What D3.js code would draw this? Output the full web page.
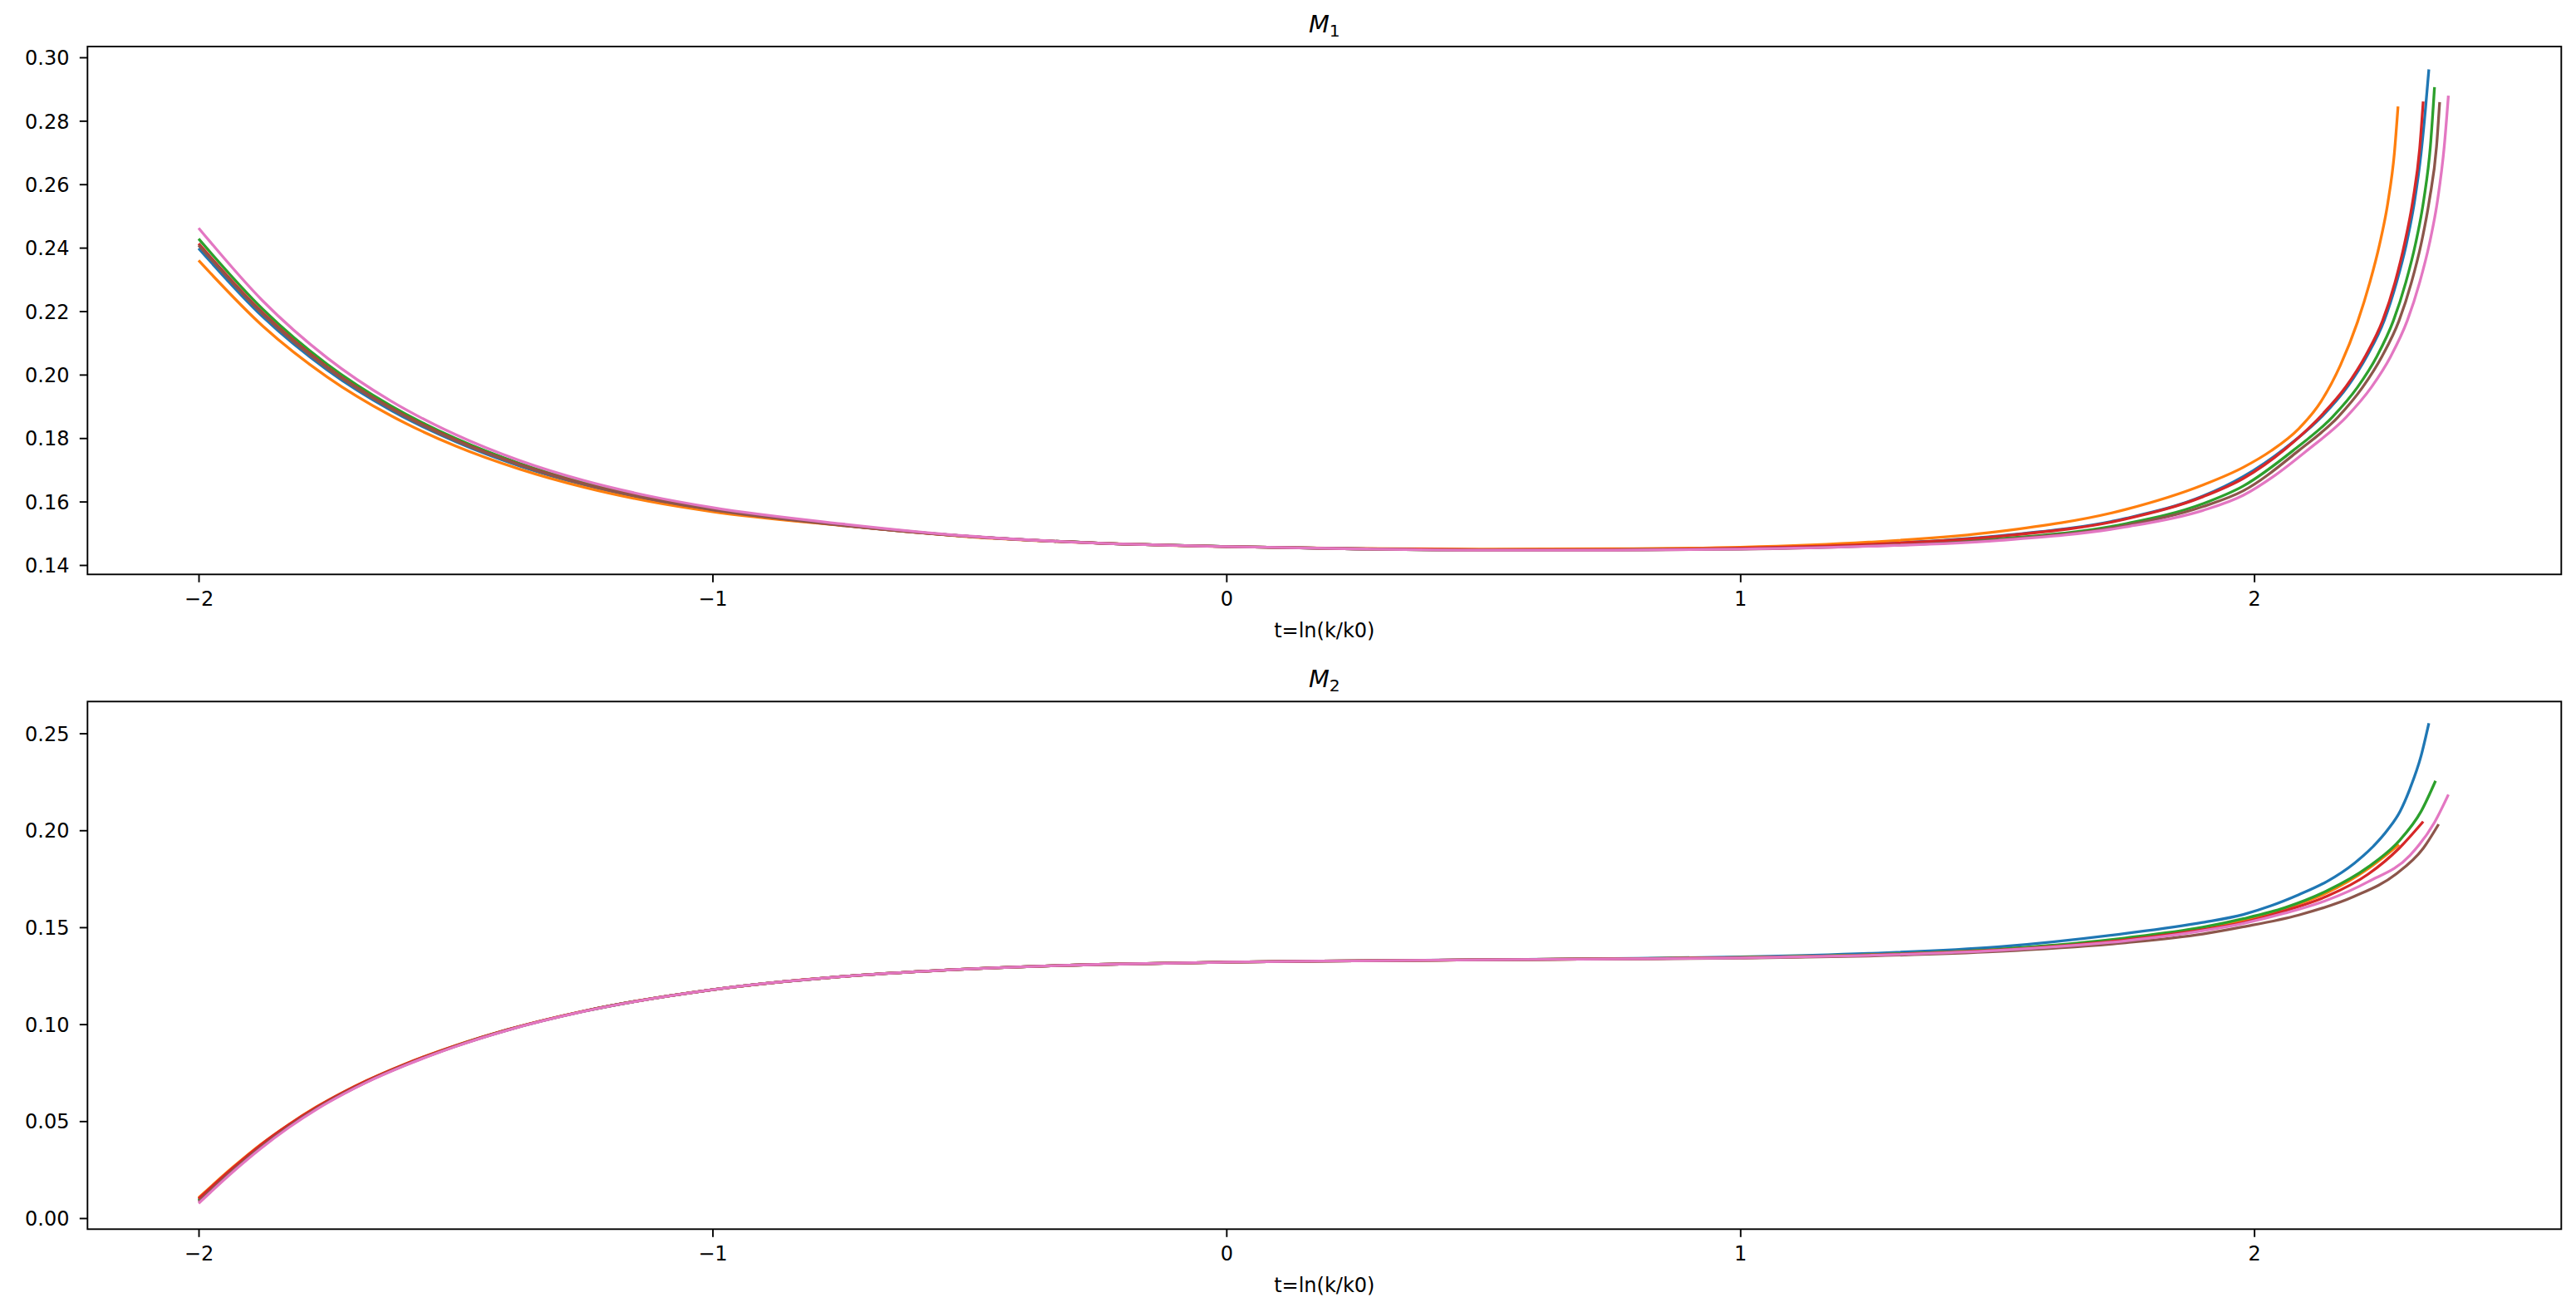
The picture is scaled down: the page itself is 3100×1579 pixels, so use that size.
<!DOCTYPE html>
<html>
<head>
<meta charset="utf-8">
<script src="https://cdn.jsdelivr.net/npm/d3@7"></script>
<style>
  html, body { margin: 0; padding: 0; background: #fff; overflow: hidden; }
  svg { display: block; font-family: "DejaVu Sans", sans-serif; }
</style>
</head>
<body>
<script>
// ---------------- DATA ----------------
const seriesNames = ["C0", "C1", "C2", "C3", "C5", "C6"];
const seriesColors = ["#1f77b4", "#ff7f0e", "#2ca02c", "#d62728", "#8c564b", "#e377c2"];

const xTicks = [-2, -1, 0, 1, 2];
const m1Ticks = [0.14, 0.16, 0.18, 0.20, 0.22, 0.24, 0.26, 0.28, 0.30];
const m2Ticks = [0.00, 0.05, 0.10, 0.15, 0.20, 0.25];

// M1 body grid and values
const m1Grid = [-2, -1.875, -1.75, -1.625, -1.5, -1.375, -1.25, -1.125, -1, -0.75, -0.5, -0.25, 0, 0.25, 0.5, 0.75, 1, 1.25, 1.5, 1.75, 1.9];
const m1BlueBody   = [0.2398,0.2182,0.2015,0.1887,0.1789,0.1712,0.1653,0.1608,0.1573,0.1525,0.1490,0.1469,0.1458,0.1451,0.1448,0.1449,0.1453,0.1465,0.1491,0.1547,0.1617];
const m1OrangeBody = [0.2360,0.2153,0.1993,0.1870,0.1775,0.1702,0.1645,0.1601,0.1568,0.1525,0.1489,0.1469,0.1458,0.1452,0.1450,0.1451,0.1456,0.1472,0.1505,0.1575,0.1652];
const m1GreenBody  = [0.2428,0.2206,0.2033,0.1901,0.1799,0.1720,0.1659,0.1612,0.1577,0.1527,0.1490,0.1469,0.1458,0.1451,0.1447,0.1448,0.1451,0.1461,0.1482,0.1530,0.1593];
const m1RedBody    = [0.2413,0.2194,0.2024,0.1894,0.1794,0.1716,0.1656,0.1610,0.1575,0.1526,0.1490,0.1469,0.1458,0.1451,0.1448,0.1449,0.1453,0.1465,0.1490,0.1545,0.1615];
const m1BrownBody  = [0.2408,0.2190,0.2021,0.1892,0.1792,0.1715,0.1655,0.1609,0.1574,0.1526,0.1490,0.1469,0.1458,0.1451,0.1447,0.1447,0.1450,0.1460,0.1479,0.1525,0.1584];
const m1PinkBody   = [0.2462,0.2232,0.2053,0.1916,0.1811,0.1729,0.1666,0.1618,0.1581,0.1530,0.1491,0.1469,0.1458,0.1451,0.1447,0.1447,0.1450,0.1459,0.1477,0.1520,0.1572];

// M1 tails [t, value]
const m1BlueTail   = [[1.979,0.1679],[2.060,0.1768],[2.133,0.1870],[2.183,0.1965],[2.220,0.2060],[2.253,0.2170],[2.277,0.2290],[2.296,0.2410],[2.312,0.2545],[2.325,0.2700],[2.333,0.2830],[2.340,0.2962]];
const m1OrangeTail = [[1.979,0.1708],[2.033,0.1760],[2.087,0.1830],[2.130,0.1915],[2.168,0.2030],[2.201,0.2165],[2.225,0.2290],[2.244,0.2410],[2.260,0.2540],[2.273,0.2700],[2.280,0.2845]];
const m1GreenTail  = [[1.979,0.1649],[2.076,0.1761],[2.152,0.1866],[2.201,0.1960],[2.239,0.2058],[2.271,0.2170],[2.295,0.2290],[2.314,0.2412],[2.330,0.2550],[2.343,0.2720],[2.351,0.2906]];
const m1RedTail    = [[1.979,0.1673],[2.060,0.1765],[2.130,0.1870],[2.179,0.1963],[2.217,0.2060],[2.250,0.2170],[2.274,0.2290],[2.293,0.2415],[2.309,0.2550],[2.322,0.2710],[2.329,0.2861]];
const m1BrownTail  = [[1.979,0.1634],[2.087,0.1761],[2.163,0.1866],[2.211,0.1960],[2.249,0.2058],[2.282,0.2170],[2.306,0.2290],[2.325,0.2412],[2.341,0.2550],[2.355,0.2720],[2.361,0.2859]];
const m1PinkTail   = [[1.979,0.1620],[2.040,0.1682],[2.103,0.1761],[2.179,0.1866],[2.228,0.1960],[2.266,0.2058],[2.298,0.2170],[2.322,0.2290],[2.341,0.2412],[2.357,0.2550],[2.370,0.2720],[2.378,0.2879]];

// M2 body grid and values
const m2Grid = [-2, -1.933, -1.879, -1.825, -1.771, -1.717, -1.674, -1.6, -1.5, -1.4, -1.25, -1, -0.75, -0.5, -0.25, 0, 0.25, 0.5, 0.75, 1, 1.25, 1.5, 1.75, 1.9];
const m2BlueBody   = [0.0090,0.0250,0.0369,0.0474,0.0566,0.0646,0.0703,0.0788,0.0887,0.0969,0.1067,0.1178,0.1245,0.1285,0.1308,0.1320,0.1327,0.1332,0.1338,0.1347,0.1365,0.1398,0.1468,0.1525];
const m2OrangeBody = [0.0105,0.0263,0.0380,0.0482,0.0573,0.0652,0.0708,0.0793,0.0890,0.0971,0.1068,0.1178,0.1245,0.1285,0.1308,0.1320,0.1327,0.1332,0.1337,0.1344,0.1358,0.1385,0.1440,0.1495];
const m2GreenBody  = [0.0093,0.0253,0.0371,0.0476,0.0568,0.0648,0.0704,0.0789,0.0888,0.0970,0.1067,0.1178,0.1245,0.1285,0.1308,0.1320,0.1327,0.1332,0.1337,0.1344,0.1358,0.1386,0.1445,0.1500];
const m2RedBody    = [0.0100,0.0259,0.0377,0.0480,0.0571,0.0650,0.0707,0.0792,0.0889,0.0971,0.1068,0.1178,0.1245,0.1285,0.1308,0.1320,0.1327,0.1332,0.1337,0.1343,0.1356,0.1382,0.1435,0.1487];
const m2BrownBody  = [0.0085,0.0246,0.0365,0.0471,0.0564,0.0644,0.0701,0.0787,0.0886,0.0969,0.1067,0.1178,0.1245,0.1285,0.1308,0.1320,0.1327,0.1332,0.1336,0.1341,0.1352,0.1375,0.1420,0.1465];
const m2PinkBody   = [0.0076,0.0239,0.0359,0.0466,0.0560,0.0641,0.0699,0.0785,0.0885,0.0968,0.1066,0.1178,0.1245,0.1285,0.1308,0.1320,0.1327,0.1332,0.1336,0.1342,0.1355,0.1380,0.1430,0.1482];

// M2 tails [t, value]
const m2BlueTail   = [[1.979,0.1566],[2.033,0.1611],[2.087,0.1668],[2.141,0.1735],[2.195,0.1830],[2.228,0.1907],[2.260,0.2003],[2.284,0.2098],[2.303,0.2213],[2.325,0.2385],[2.340,0.2552]];
const m2OrangeTail = [[1.979,0.1535],[2.060,0.1597],[2.141,0.1677],[2.222,0.1802],[2.282,0.1926]];
const m2GreenTail  = [[1.979,0.1544],[2.060,0.1601],[2.141,0.1687],[2.222,0.1811],[2.282,0.1945],[2.325,0.2098],[2.353,0.2255]];
const m2RedTail    = [[1.979,0.1525],[2.060,0.1585],[2.141,0.1659],[2.222,0.1774],[2.282,0.1907],[2.329,0.2045]];
const m2BrownTail  = [[1.979,0.1502],[2.087,0.1563],[2.195,0.1659],[2.276,0.1774],[2.329,0.1907],[2.359,0.2031]];
const m2PinkTail   = [[1.979,0.1520],[2.060,0.1573],[2.141,0.1639],[2.222,0.1735],[2.303,0.1870],[2.351,0.2041],[2.378,0.2184]];

// ---------------- BUILD ----------------
function build(grid, body, tail) {
  return grid.map((t, i) => [t, body[i]]).concat(tail);
}
const m1Series = [
  build(m1Grid, m1BlueBody, m1BlueTail),
  build(m1Grid, m1OrangeBody, m1OrangeTail),
  build(m1Grid, m1GreenBody, m1GreenTail),
  build(m1Grid, m1RedBody, m1RedTail),
  build(m1Grid, m1BrownBody, m1BrownTail),
  build(m1Grid, m1PinkBody, m1PinkTail)
];
const m2Series = [
  build(m2Grid, m2BlueBody, m2BlueTail),
  build(m2Grid, m2OrangeBody, m2OrangeTail),
  build(m2Grid, m2GreenBody, m2GreenTail),
  build(m2Grid, m2RedBody, m2RedTail),
  build(m2Grid, m2BrownBody, m2BrownTail),
  build(m2Grid, m2PinkBody, m2PinkTail)
];

const W = 3100, H = 1579;
const left = 105.3, right = 3082.3;
const svg = d3.select("body").append("svg").attr("width", W).attr("height", H);

const x = d3.scaleLinear().domain([-2.2162, 2.5977]).range([left, right]);
const fmtX = d => d < 0 ? "\u2212" + Math.abs(d) : String(d);

const panels = [
  { title: "1", top: 56, bottom: 691.3, yDomain: [0.13704, 0.3034], ticks: m1Ticks, fmt: d3.format(".2f"), series: m1Series },
  { title: "2", top: 844.3, bottom: 1479.3, yDomain: [-0.0057, 0.2664], ticks: m2Ticks, fmt: d3.format(".2f"), series: m2Series }
];

panels.forEach(p => {
  const y = d3.scaleLinear().domain(p.yDomain).range([p.bottom, p.top]);
  const g = svg.append("g");

  // curves
  const line = d3.line().x(d => x(d[0])).y(d => y(d[1])).curve(d3.curveMonotoneX);
  p.series.forEach((s, i) => {
    g.append("path").attr("d", line(s)).attr("fill", "none")
      .attr("stroke", seriesColors[i]).attr("stroke-width", 3.3)
      .attr("stroke-linejoin", "round").attr("stroke-linecap", "butt");
  });

  // x axis
  const gx = g.append("g").attr("transform", `translate(0,${p.bottom})`)
    .call(d3.axisBottom(x).tickValues(xTicks).tickFormat(fmtX).tickSize(9.5).tickPadding(11.5));
  gx.select(".domain").remove();
  gx.selectAll("line").attr("stroke", "#000").attr("stroke-width", 1.9);
  gx.selectAll("text").attr("font-size", 24).attr("fill", "#000").attr("font-family", "DejaVu Sans");

  // y axis
  const gy = g.append("g").attr("transform", `translate(${left},0)`)
    .call(d3.axisLeft(y).tickValues(p.ticks).tickFormat(p.fmt).tickSize(9.5).tickPadding(12.3));
  gy.select(".domain").remove();
  gy.selectAll("line").attr("stroke", "#000").attr("stroke-width", 1.9);
  gy.selectAll("text").attr("font-size", 24).attr("fill", "#000").attr("dy", "0.36em").attr("font-family", "DejaVu Sans");

  // frame
  g.append("rect").attr("x", left).attr("y", p.top)
    .attr("width", right - left).attr("height", p.bottom - p.top)
    .attr("fill", "none").attr("stroke", "#000").attr("stroke-width", 1.9);

  // title
  const t = g.append("text").attr("x", (left + right) / 2).attr("y", p.top - 17)
    .attr("text-anchor", "middle").attr("font-size", 28.8).attr("fill", "#000");
  t.append("tspan").attr("font-style", "italic").text("M");
  t.append("tspan").attr("font-size", 20.2).attr("dy", 4.5).text(p.title);

  // x label
  g.append("text").attr("x", (left + right) / 2).attr("y", p.bottom + 76)
    .attr("text-anchor", "middle").attr("font-size", 24).attr("fill", "#000")
    .text("t=ln(k/k0)");
});
</script>
</body>
</html>
